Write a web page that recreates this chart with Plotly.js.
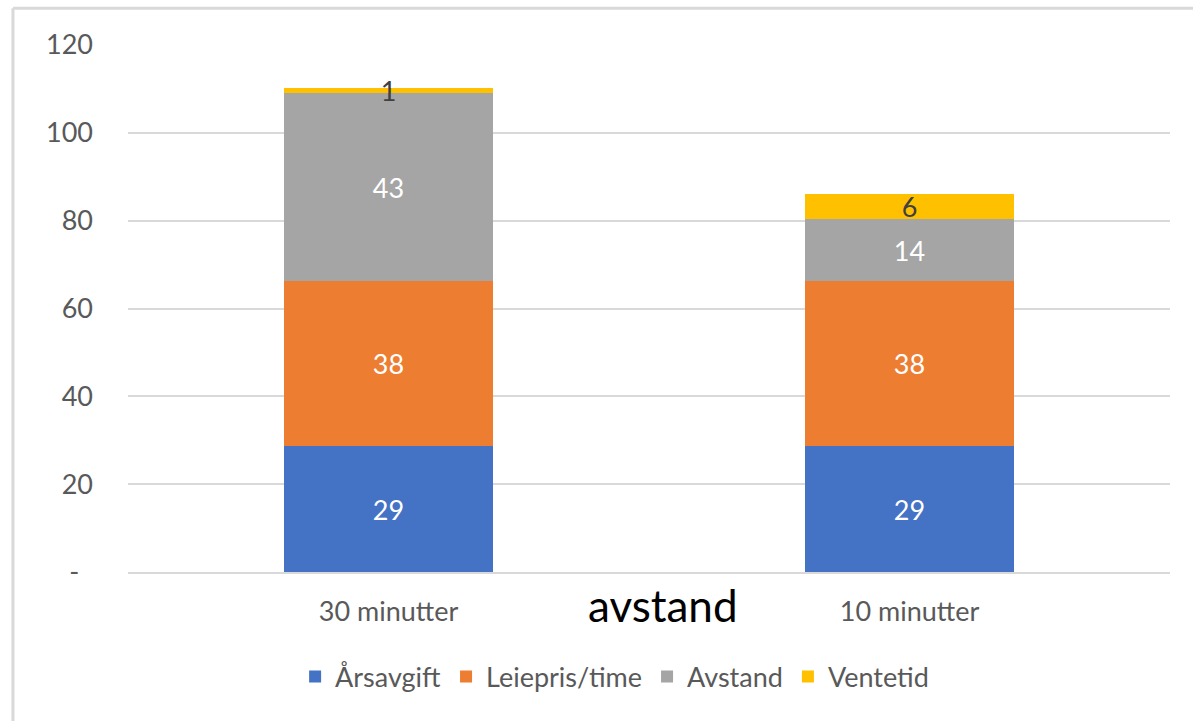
<!DOCTYPE html>
<html>
<head>
<meta charset="utf-8">
<script src="https://cdn.plot.ly/plotly-3.0.1.min.js"></script>
<style>
  html, body { margin: 0; padding: 0; background: #fff; }
  #chart { width: 1193px; height: 721px; }
</style>
</head>
<body>
<div id="chart"></div>
<script>
const categories = ["30 minutter", "10 minutter"];
const seriesNames = ["Årsavgift", "Leiepris/time", "Avstand", "Ventetid"];
const arsavgift = [28.6, 28.6];
const leiepris = [37.55, 37.55];
const avstand = [42.85, 14.15];
const ventetid = [1.1, 5.8];
const yTickVals = [0, 20, 40, 60, 80, 100, 120];
const yTickText = ["-\u00a0\u00a0", "20", "40", "60", "80", "100", "120"];
const xTitle = "avstand";

const colors = ["#4472C4", "#ED7D31", "#A5A5A5", "#FFC000"];
const labelColors = ["#FFFFFF", "#FFFFFF", "#FFFFFF", "#404040"];
const FONT = "Lato, 'Open Sans', sans-serif";
const FS = 27;
const seriesValues = [arsavgift, leiepris, avstand, ventetid];

const traces = seriesValues.map((vals, i) => ({
  type: "bar",
  name: seriesNames[i],
  x: categories,
  y: vals,
  width: 0.4,
  marker: { color: colors[i], line: { width: 0 } },
  text: vals.map(v => String(Math.round(v))),
  texttemplate: "%{text}",
  textposition: "inside",
  insidetextanchor: "middle",
  constraintext: "none",
  textangle: 0,
  insidetextfont: { family: FONT, size: FS, color: labelColors[i] },
  hoverinfo: "skip",
  cliponaxis: false
}));

const layout = {
  width: 1193,
  height: 721,
  barmode: "stack",
  paper_bgcolor: "#FFFFFF",
  plot_bgcolor: "#FFFFFF",
  font: { family: FONT, size: FS, color: "#595959" },
  margin: { l: 128, r: 23, t: 45, b: 149 },
  showlegend: true,
  legend: {
    orientation: "h",
    x: 0.467, xanchor: "center",
    y: -0.199, yanchor: "middle",
    font: { family: FONT, size: FS, color: "#595959" },
    traceorder: "normal",
    itemclick: false, itemdoubleclick: false
  },
  xaxis: {
    type: "category",
    showgrid: false,
    showline: true,
    linecolor: "#D9D9D9",
    linewidth: 2,
    ticks: "",
    ticklabelstandoff: 15,
    tickfont: { family: FONT, size: FS, color: "#595959" },
    zeroline: false
  },
  yaxis: {
    range: [0, 120],
    tickvals: yTickVals,
    ticktext: yTickText,
    showgrid: true,
    gridcolor: "#D9D9D9",
    gridwidth: 2,
    zeroline: false,
    showline: false,
    ticks: "",
    ticklabelstandoff: 34,
    tickfont: { family: FONT, size: FS, color: "#595959" }
  },
  annotations: [{
    text: xTitle,
    xref: "paper", yref: "paper",
    x: 0.513, y: -0.0626,
    xanchor: "center", yanchor: "middle",
    showarrow: false,
    font: { family: FONT, size: 44, color: "#000000" }
  }],
  shapes: [
    { type: "line", xref: "paper", yref: "paper", x0: -0.1104, x1: 1.03, y0: 1.0697, y1: 1.0697,
      line: { color: "#D9D9D9", width: 3 } },
    { type: "line", xref: "paper", yref: "paper", x0: -0.1104, x1: -0.1104, y0: 1.0697, y1: -0.3,
      line: { color: "#D9D9D9", width: 3 } }
  ]
};

Plotly.newPlot("chart", traces, layout, { displayModeBar: false, staticPlot: true });
</script>
</body>
</html>
